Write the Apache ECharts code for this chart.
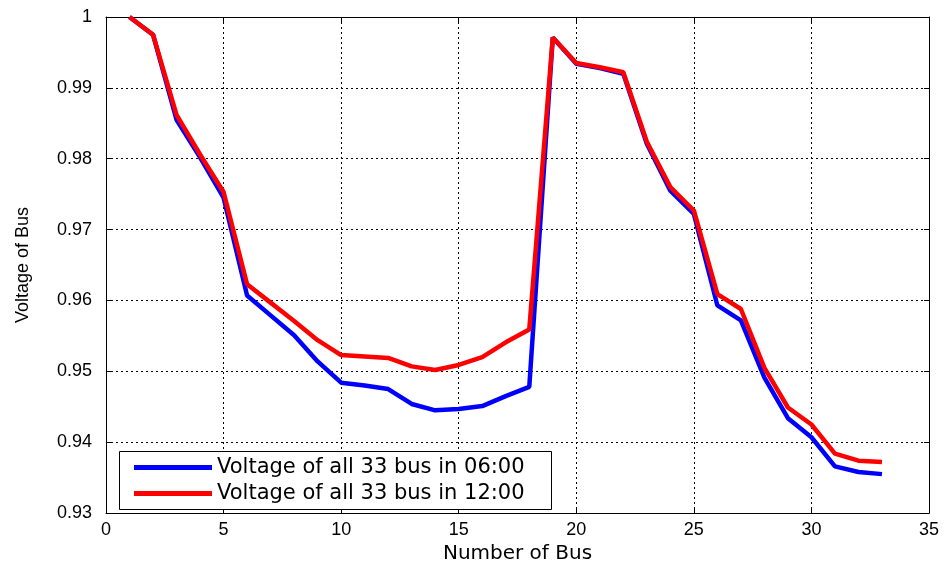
<!DOCTYPE html>
<html>
<head>
<meta charset="utf-8">
<script src="https://cdn.jsdelivr.net/npm/echarts@6/dist/echarts.min.js"></script>
<style>
  html, body { margin: 0; padding: 0; background: #fff; }
  #chart { width: 948px; height: 569px; }
</style>
</head>
<body>
<div id="chart"></div>
<script>
const busNumbers = [1, 2, 3, 4, 5, 6, 7, 8, 9, 10, 11, 12, 13, 14, 15, 16, 17,
  18, 19, 20, 21, 22, 23, 24, 25, 26, 27, 28, 29, 30, 31, 32, 33];
const voltage0600 = [1.0, 0.9975, 0.9855, 0.9802, 0.9745, 0.9607, 0.9579, 0.9551, 0.9514,
  0.9484, 0.9480, 0.9475, 0.9454, 0.9445, 0.9447, 0.9451, 0.9465, 0.9478,
  0.9971, 0.9934, 0.9928, 0.9920, 0.9821, 0.9755, 0.9722, 0.9593, 0.9572,
  0.9491, 0.9434, 0.9407, 0.9366, 0.9358, 0.9355];
const voltage1200 = [1.0, 0.9975, 0.9862, 0.9806, 0.9753, 0.9623, 0.9597, 0.9571, 0.9544,
  0.9523, 0.9521, 0.9519, 0.9507, 0.9502, 0.9509, 0.9520, 0.9541, 0.9559,
  0.9971, 0.9935, 0.9929, 0.9922, 0.9824, 0.9760, 0.9727, 0.9609, 0.9588,
  0.9505, 0.9449, 0.9425, 0.9384, 0.9374, 0.9372];
const seriesNames = ['Voltage of all 33 bus in 06:00', 'Voltage of all 33 bus in 12:00'];

const pair = (vals) => busNumbers.map((b, i) => [b, vals[i]]);

const tickFont = { color: '#000', fontFamily: 'Liberation Sans', fontSize: 18 };
const axisLine = { show: true, onZero: false, lineStyle: { color: '#000', width: 1 } };
const innerTick = { show: true, inside: true, length: 5, lineStyle: { color: '#000' } };
const gridLine = { show: true, lineStyle: { color: '#000', type: [2, 3], width: 1 } };

const option = {
  animation: false,
  backgroundColor: '#fff',
  grid: { left: 106, right: 19, top: 17, bottom: 53 },
  // legend frame, drawn separately so its width matches the original box
  graphic: [{
    type: 'rect',
    z: 90,
    shape: { x: 119.5, y: 451.5, width: 432, height: 58 },
    style: { fill: '#fff', stroke: '#000', lineWidth: 1 }
  }],
  legend: {
    orient: 'vertical',
    left: 119,
    top: 451,
    z: 100,
    data: seriesNames,
    icon: 'rect',
    itemWidth: 78,
    itemHeight: 5,
    itemGap: 5,
    padding: [6, 10, 7, 15],
    textStyle: { color: '#000', fontFamily: 'DejaVu Sans', fontSize: 21, lineHeight: 20 }
  },
  xAxis: [{
    type: 'value',
    min: 0, max: 35, interval: 5,
    name: 'Number of Bus',
    nameLocation: 'middle',
    nameGap: 30,
    nameTextStyle: { color: '#000', fontFamily: 'DejaVu Sans', fontSize: 20 },
    axisLine: axisLine,
    axisTick: innerTick,
    axisLabel: Object.assign({ margin: 8 }, tickFont),
    splitLine: gridLine
  }, {
    type: 'value',
    position: 'top',
    min: 0, max: 35, interval: 5,
    axisLine: axisLine,
    axisTick: innerTick,
    axisLabel: { show: false },
    splitLine: { show: false }
  }],
  yAxis: [{
    type: 'value',
    min: 0.93, max: 1, interval: 0.01,
    name: 'Voltage of Bus',
    nameLocation: 'middle',
    nameGap: 74,
    nameTextStyle: { color: '#000', fontFamily: 'Liberation Sans', fontSize: 18 },
    axisLine: axisLine,
    axisTick: innerTick,
    axisLabel: Object.assign({ margin: 14 }, tickFont),
    splitLine: gridLine
  }, {
    type: 'value',
    position: 'right',
    min: 0.93, max: 1, interval: 0.01,
    axisLine: axisLine,
    axisTick: innerTick,
    axisLabel: { show: false },
    splitLine: { show: false }
  }],
  series: [{
    name: seriesNames[0],
    type: 'line',
    data: pair(voltage0600),
    showSymbol: false,
    color: '#0000ff',
    lineStyle: { color: '#0000ff', width: 4.5 }
  }, {
    name: seriesNames[1],
    type: 'line',
    data: pair(voltage1200),
    showSymbol: false,
    color: '#ff0000',
    lineStyle: { color: '#ff0000', width: 4.5 }
  }]
};

const chart = echarts.init(document.getElementById('chart'), null, { renderer: 'canvas' });
chart.setOption(option);
</script>
</body>
</html>
